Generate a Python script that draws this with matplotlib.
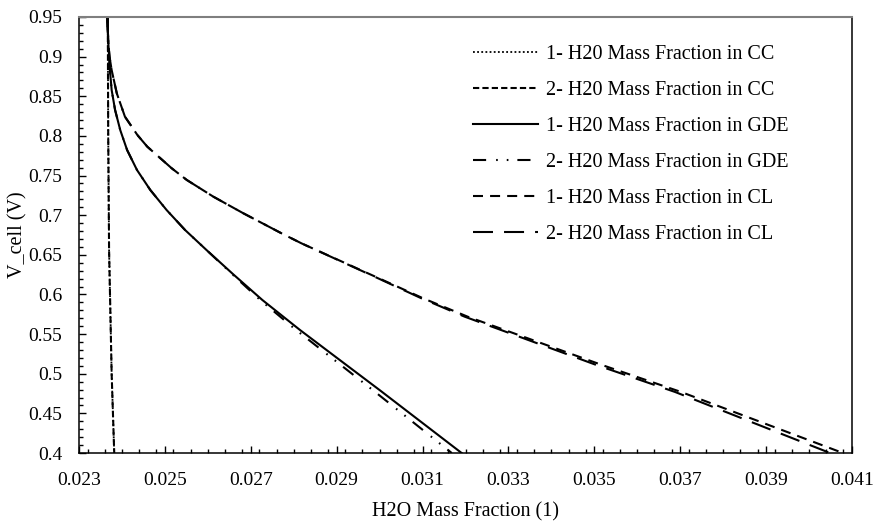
import numpy as np
import matplotlib.pyplot as plt
from matplotlib.ticker import MultipleLocator

plt.rcParams['font.family'] = ['Liberation Serif', 'DejaVu Serif']

# CC curves (nearly vertical)
v_cc = [0.95, 0.80, 0.656, 0.50, 0.40]
x_cc1 = [0.02367, 0.02368, 0.02370, 0.02376, 0.02382]
x_cc2 = [0.02367, 0.02368, 0.02370, 0.02376, 0.02382]

# GDE curves
v_gde = [0.95, 0.92, 0.90, 0.8831, 0.8579, 0.8327, 0.8074, 0.7822, 0.757, 0.7318, 0.7065,
         0.6813, 0.656, 0.625, 0.593, 0.555, 0.479, 0.40]
x_gde1 = [0.02366, 0.02368, 0.02370, 0.02372, 0.02376, 0.02384, 0.02396, 0.02412, 0.02435, 0.02466,
          0.02504, 0.02547, 0.02597, 0.02660, 0.02727, 0.02815, 0.03001, 0.03191]
x_gde2 = [0.02366, 0.02368, 0.02370, 0.02372, 0.02376, 0.02384, 0.02396, 0.02412, 0.02435, 0.02466,
          0.02504, 0.02547, 0.02597, 0.02658, 0.02722, 0.02806, 0.02985, 0.03168]

# CL curves
v_cl = [0.95, 0.92, 0.90, 0.8831, 0.8537, 0.8242, 0.8011, 0.7864, 0.7591, 0.7444, 0.7233, 0.7023,
        0.6918, 0.677, 0.6645, 0.62, 0.595, 0.572, 0.511, 0.477, 0.40]
x_cl1 = [0.02366, 0.02368, 0.02371, 0.02376, 0.02388, 0.02407, 0.02436, 0.02459, 0.02516, 0.02551,
         0.02613, 0.02683, 0.02720, 0.02772, 0.02818, 0.03000, 0.03102, 0.03205, 0.03518, 0.03702, 0.04079]
x_cl2 = [0.02366, 0.02368, 0.02371, 0.02376, 0.02388, 0.02407, 0.02436, 0.02459, 0.02516, 0.02551,
         0.02613, 0.02683, 0.02720, 0.02772, 0.02818, 0.02998, 0.03098, 0.03198, 0.03505, 0.03688, 0.04049]

labels = ["1- H20 Mass Fraction in CC", "2- H20 Mass Fraction in CC",
          "1- H20 Mass Fraction in GDE", "2- H20 Mass Fraction in GDE",
          "1- H20 Mass Fraction in CL", "2- H20 Mass Fraction in CL"]

xticks = [0.023, 0.025, 0.027, 0.029, 0.031, 0.033, 0.035, 0.037, 0.039, 0.041]
yticks = [0.4, 0.45, 0.5, 0.55, 0.6, 0.65, 0.7, 0.75, 0.8, 0.85, 0.9, 0.95]

fig = plt.figure(figsize=(8.76, 5.23), dpi=100)
ax = fig.add_axes([0.0902, 0.1338, 0.8824, 0.8337])

lw = 1.5
ax.plot(x_cc1, v_cc, color='black', lw=1.3, dashes=(1.0, 1.3), label=labels[0])
ax.plot(x_cc2, v_cc, color='black', lw=lw, dashes=(3.0, 1.5), label=labels[1])
ax.plot(x_gde1, v_gde, color='black', lw=lw, label=labels[2])
ax.plot(x_gde2, v_gde, color='black', lw=lw, dashes=(6.3, 4.8, 0.8, 4.3, 0.8, 4.3), label=labels[3])
ax.plot(x_cl1, v_cl, color='black', lw=lw, dashes=(4.8, 3.4), label=labels[4])
ax.plot(x_cl2, v_cl, color='black', lw=lw, dashes=(9.6, 5.3), label=labels[5])

ax.set_xlim(0.023, 0.041)
ax.set_ylim(0.4, 0.95)
ax.set_xticks(xticks)
ax.set_xticklabels(["%.3f" % t for t in xticks])
ax.set_yticks(yticks)
ax.set_yticklabels(["%g" % t for t in yticks])
ax.xaxis.set_minor_locator(MultipleLocator(0.0004))
ax.yaxis.set_minor_locator(MultipleLocator(0.01))
ax.tick_params(which='major', direction='in', length=5, width=1, labelsize=14,
               top=False, right=False)
ax.tick_params(axis='y', which='major', pad=12)
ax.tick_params(axis='x', which='major', pad=13.5)
ax.tick_params(which='minor', direction='in', length=3, width=1, top=False, right=False)

for s in ['left', 'bottom', 'right']:
    ax.spines[s].set_color('black')
    ax.spines[s].set_linewidth(1.1)
ax.spines['top'].set_color('#7f7f7f')
ax.spines['top'].set_linewidth(1.5)

ax.set_xlabel("H2O Mass Fraction (1)", fontsize=14.5)
ax.set_ylabel("V_cell (V)", fontsize=14.5)
ax.xaxis.set_label_coords(0.5, -0.113)
ax.yaxis.set_label_coords(-0.067, 0.5)

ax.legend(loc='upper left', bbox_to_anchor=(0.519, 0.948), bbox_transform=fig.transFigure,
          frameon=False, fontsize=14.5, handlelength=3.23, handletextpad=0.4,
          labelspacing=0.84)

fig.savefig("out.png", dpi=100)
plt.close()
